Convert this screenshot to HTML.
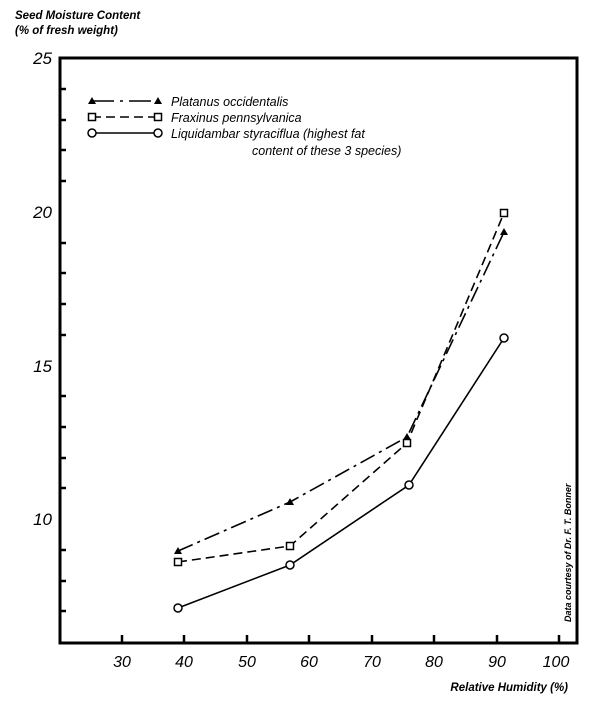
<!DOCTYPE html>
<html><head><meta charset="utf-8"><style>body{margin:0;background:#fff}</style></head><body>
<svg width="600" height="698" xmlns="http://www.w3.org/2000/svg" font-family="Liberation Sans, sans-serif" font-style="italic">
<rect width="600" height="698" fill="#fff"/>
<text x="15" y="19" font-size="11.5" font-weight="bold">Seed Moisture Content</text>
<text x="15" y="34" font-size="11.5" font-weight="bold">(% of fresh weight)</text>
<rect x="60" y="58" width="517" height="585" fill="none" stroke="#000" stroke-width="3"/>
<g font-size="17" text-anchor="end">
<text x="52" y="64">25</text><text x="52" y="218">20</text><text x="52" y="372">15</text><text x="52" y="525">10</text>
</g>
<g stroke="#000" stroke-width="2.5">
<line x1="60" y1="89" x2="66" y2="89"/><line x1="60" y1="120" x2="66" y2="120"/><line x1="60" y1="150" x2="66" y2="150"/><line x1="60" y1="181" x2="66" y2="181"/>
<line x1="60" y1="243" x2="66" y2="243"/><line x1="60" y1="273" x2="66" y2="273"/><line x1="60" y1="304" x2="66" y2="304"/><line x1="60" y1="335" x2="66" y2="335"/>
<line x1="60" y1="396" x2="66" y2="396"/><line x1="60" y1="427" x2="66" y2="427"/><line x1="60" y1="458" x2="66" y2="458"/><line x1="60" y1="488" x2="66" y2="488"/>
<line x1="60" y1="550" x2="66" y2="550"/><line x1="60" y1="581" x2="66" y2="581"/><line x1="60" y1="611" x2="66" y2="611"/>
<line x1="122" y1="635" x2="122" y2="643"/><line x1="184" y1="635" x2="184" y2="643"/><line x1="247" y1="635" x2="247" y2="643"/><line x1="309" y1="635" x2="309" y2="643"/><line x1="372" y1="635" x2="372" y2="643"/><line x1="434" y1="635" x2="434" y2="643"/><line x1="497" y1="635" x2="497" y2="643"/><line x1="559" y1="635" x2="559" y2="643"/>
</g>
<g font-size="16" text-anchor="middle">
<text x="122" y="667">30</text><text x="184" y="667">40</text><text x="247" y="667">50</text><text x="309" y="667">60</text><text x="372" y="667">70</text><text x="434" y="667">80</text><text x="497" y="667">90</text><text x="556" y="667">100</text>
</g>
<text x="568" y="691" font-size="11.5" font-weight="bold" text-anchor="end">Relative Humidity (%)</text>
<text transform="translate(571,622) rotate(-90)" font-size="9" font-weight="bold">Data courtesy of Dr. F. T. Bonner</text>
<g fill="none" stroke="#000" stroke-width="1.6">
<polyline points="178,551 290,502 407,437 504,232" stroke-dasharray="16,5,3,5"/>
<polyline points="178,562 290,546 407,443 504,213" stroke-dasharray="9,5"/>
<polyline points="178,608 290,565 409,485 504,338"/>
<line x1="92" y1="101" x2="158" y2="101" stroke-dasharray="22,6,3,6"/>
<line x1="92" y1="117" x2="158" y2="117" stroke-dasharray="9,5"/>
<line x1="92" y1="133" x2="158" y2="133"/>
</g>
<g fill="#000">
<path d="M178,547 l4,7 h-8z"/><path d="M290,498 l4,7 h-8z"/><path d="M407,433 l4,7 h-8z"/><path d="M504,228 l4,7 h-8z"/>
<path d="M92,97 l4,7 h-8z"/><path d="M158,97 l4,7 h-8z"/>
</g>
<g fill="#fff" stroke="#000" stroke-width="1.5">
<rect x="174.5" y="558.5" width="7" height="7"/><rect x="286.5" y="542.5" width="7" height="7"/><rect x="403.5" y="439.5" width="7" height="7"/><rect x="500.5" y="209.5" width="7" height="7"/>
<rect x="88.5" y="113.5" width="7" height="7"/><rect x="154.5" y="113.5" width="7" height="7"/>
<circle cx="178" cy="608" r="4"/><circle cx="290" cy="565" r="4"/><circle cx="409" cy="485" r="4"/><circle cx="504" cy="338" r="4"/>
<circle cx="92" cy="133" r="4"/><circle cx="158" cy="133" r="4"/>
</g>
<g font-size="12.5">
<text x="171" y="106">Platanus occidentalis</text>
<text x="171" y="122">Fraxinus pennsylvanica</text>
<text x="171" y="138">Liquidambar styraciflua (highest fat</text>
<text x="252" y="155">content of these 3 species)</text>
</g>
</svg>
</body></html>
